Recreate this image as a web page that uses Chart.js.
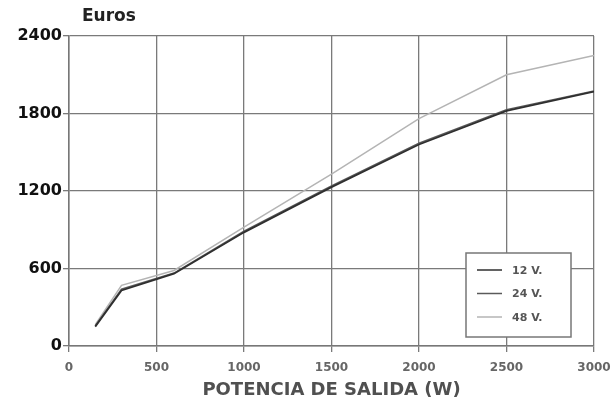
<!DOCTYPE html>
<html>
<head>
<meta charset="utf-8">
<script src="https://cdn.jsdelivr.net/npm/chart.js@4/dist/chart.umd.min.js"></script>
<style>
  html, body { margin: 0; padding: 0; background: #fff; overflow: hidden; }
  #wrap { width: 613px; height: 403px; position: relative; }
  canvas { display: block; }
</style>
</head>
<body>
<div id="wrap"><canvas id="chart"></canvas></div>
<script>
// Potencia de salida (W)
const potencia = [150, 300, 600, 1000, 1500, 2000, 2500, 3000];
// Precio en euros por tension
const v12 = [150, 430, 560, 880, 1230, 1560, 1820, 1970];
const v24 = [155, 440, 565, 890, 1240, 1570, 1830, 1975];
const v48 = [165, 470, 585, 920, 1330, 1760, 2100, 2250];
const seriesLabels = ['12 V.', '24 V.', '48 V.'];
const seriesColors = ['#2f2f2f', '#5a5a5a', '#b4b4b4'];
const xTicks = [0, 500, 1000, 1500, 2000, 2500, 3000];
const yTicks = [0, 600, 1200, 1800, 2400];

const toPoints = (vals) => vals.map((v, i) => ({ x: potencia[i], y: v }));

// draws "Euros" and the boxed legend inside the plot
const extrasPlugin = {
    id: 'extras',
    afterDraw(chart) {
        const ctx = chart.ctx;
        ctx.save();
        ctx.fillStyle = '#222';
        ctx.font = 'bold 17px "DejaVu Sans", sans-serif';
        ctx.textBaseline = 'middle';
        ctx.fillText('Euros', 82, 17);

        // legend box
        const bx = 466, by = 253, bw = 105, bh = 84;
        ctx.fillStyle = '#fff';
        ctx.fillRect(bx, by, bw, bh);
        ctx.strokeStyle = '#777';
        ctx.lineWidth = 1.5;
        ctx.strokeRect(bx, by, bw, bh);
        ctx.font = 'bold 11px "DejaVu Sans", sans-serif';
        chart.data.datasets.forEach((ds, i) => {
            const yy = by + 17 + i * 23.5;
            ctx.strokeStyle = ds.borderColor;
            ctx.lineWidth = 1.5;
            ctx.beginPath();
            ctx.moveTo(bx + 11, yy);
            ctx.lineTo(bx + 36, yy);
            ctx.stroke();
            ctx.fillStyle = '#555';
            ctx.fillText(ds.label, bx + 46, yy + 1);
        });
        ctx.restore();
    }
};

new Chart(document.getElementById('chart'), {
    type: 'line',
    data: {
        datasets: [
            { label: seriesLabels[0], data: toPoints(v12), borderColor: seriesColors[0], borderWidth: 1.8 },
            { label: seriesLabels[1], data: toPoints(v24), borderColor: seriesColors[1], borderWidth: 1.5 },
            { label: seriesLabels[2], data: toPoints(v48), borderColor: seriesColors[2], borderWidth: 1.5 }
        ]
    },
    options: {
        responsive: true,
        maintainAspectRatio: false,
        animation: false,
        elements: { point: { radius: 0 }, line: { tension: 0, fill: false } },
        layout: { padding: { top: 36, right: 19, bottom: 0, left: 0 } },
        plugins: { legend: { display: false }, tooltip: { enabled: false } },
        scales: {
            x: {
                type: 'linear',
                min: 0,
                max: 3000,
                afterBuildTicks: (axis) => { axis.ticks = xTicks.map(v => ({ value: v })); },
                afterFit: (axis) => {
                    axis.height = 57;
                    // the last label may overhang the right edge, as in the original
                    axis.paddingRight = 0;
                    axis.paddingLeft = 0;
                },
                grid: { color: '#7a7a7a', lineWidth: 1.3, tickLength: 6 },
                border: { color: '#777', width: 1.5 },
                ticks: {
                    color: '#666',
                    font: { size: 12, weight: 'bold', family: '"DejaVu Sans", sans-serif' },
                    padding: 9,
                    maxRotation: 0,
                    callback: (v) => String(v)
                },
                title: {
                    display: true,
                    text: 'POTENCIA DE SALIDA (W)',
                    color: '#505050',
                    font: { size: 18, weight: 'bold', family: '"DejaVu Sans", sans-serif' },
                    padding: { top: 2, bottom: 2 }
                }
            },
            y: {
                min: 0,
                max: 2400,
                afterBuildTicks: (axis) => { axis.ticks = yTicks.map(v => ({ value: v })); },
                afterFit: (axis) => { axis.width = 69; },
                grid: { color: '#7a7a7a', lineWidth: 1.3, tickLength: 6 },
                border: { color: '#777', width: 1.5 },
                ticks: {
                    color: '#111',
                    font: { size: 16, weight: 'bold', family: '"DejaVu Sans", sans-serif' },
                    padding: 1,
                    callback: (v) => String(v)
                }
            }
        }
    },
    plugins: [extrasPlugin]
});
</script>
</body>
</html>
